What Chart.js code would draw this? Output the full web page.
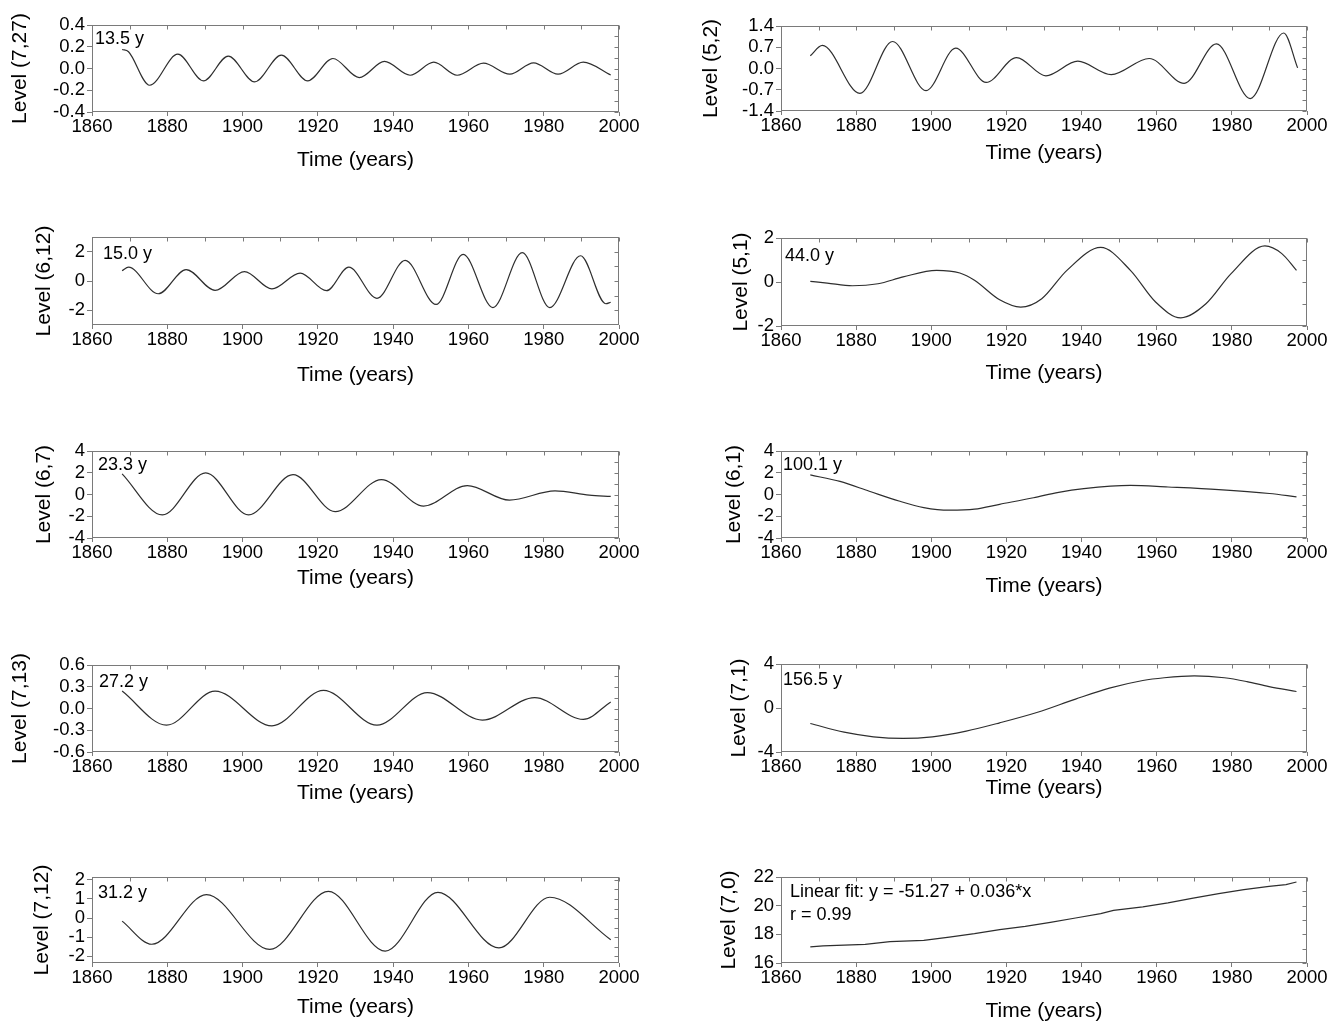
<!DOCTYPE html>
<html><head><meta charset="utf-8">
<script src="https://cdn.jsdelivr.net/npm/chart.js@4.4.0/dist/chart.umd.min.js"></script>
<style>html,body{margin:0;padding:0;background:#fff;width:1342px;height:1021px;overflow:hidden;} canvas{position:absolute;}</style>
</head><body>
<script>
// ---------- DATA ----------
const xTicks = [1860, 1880, 1900, 1920, 1940, 1960, 1980, 2000];
const xTitle = 'Time (years)';

const years_7_27 = [1868, 1869.7, 1875.3, 1882.8, 1889.6, 1896.2, 1903.2, 1910.3, 1917.3, 1924, 1931, 1937.7, 1944.5, 1950.8, 1957, 1964, 1971, 1977.3, 1983.8, 1990.5, 1997.8];
const level_7_27 = [0.175, 0.154, -0.154, 0.132, -0.114, 0.114, -0.123, 0.123, -0.114, 0.092, -0.083, 0.065, -0.062, 0.058, -0.062, 0.049, -0.052, 0.052, -0.052, 0.058, -0.06];
const yTicks_7_27 = [-0.4, -0.2, 0, 0.2, 0.4];

const years_5_2 = [1867.8, 1871, 1881, 1889.7, 1898.6, 1906.5, 1914.6, 1922.7, 1930.5, 1939, 1947.9, 1958, 1967.3, 1975.9, 1984.9, 1993.8, 1997.5];
const level_5_2 = [0.42, 0.76, -0.82, 0.89, -0.73, 0.67, -0.46, 0.36, -0.24, 0.24, -0.2, 0.33, -0.49, 0.81, -0.99, 1.17, 0.02];
const yTicks_5_2 = [-1.4, -0.7, 0, 0.7, 1.4];

const years_6_12 = [1868, 1869.7, 1877.6, 1885, 1892.7, 1900.5, 1907.8, 1915.3, 1922.3, 1928.2, 1935.7, 1943.2, 1951.4, 1958.6, 1966.5, 1974.3, 1981.6, 1989.8, 1996.5, 1997.8];
const level_6_12 = [0.7, 0.94, -0.87, 0.78, -0.64, 0.64, -0.54, 0.54, -0.66, 0.94, -1.18, 1.41, -1.6, 1.81, -1.81, 1.93, -1.81, 1.72, -1.55, -1.45];
const yTicks_6_12 = [-2, 0, 2];

const years_5_1 = [1867.8, 1872.3, 1879, 1885.8, 1892.5, 1901.4, 1907.6, 1911.5, 1918.2, 1923.8, 1929.4, 1936.1, 1945.1, 1953, 1959.7, 1966.4, 1973.1, 1979.8, 1988.8, 1993.3, 1997.2];
const level_5_1 = [0.03, -0.05, -0.17, -0.08, 0.23, 0.53, 0.41, 0.08, -0.81, -1.14, -0.76, 0.53, 1.57, 0.53, -0.91, -1.63, -0.99, 0.38, 1.64, 1.29, 0.53];
const yTicks_5_1 = [-2, 0, 2];

const years_6_7 = [1868, 1878.7, 1890.2, 1901.6, 1913.4, 1924.6, 1936.9, 1948.1, 1959.7, 1970.9, 1983, 1992.1, 1997.8];
const level_6_7 = [1.9, -1.88, 1.98, -1.88, 1.82, -1.58, 1.37, -1.06, 0.82, -0.52, 0.33, -0.06, -0.18];
const yTicks_6_7 = [-4, -2, 0, 2, 4];

const years_6_1 = [1867.8, 1875.7, 1883.5, 1891.4, 1898, 1904.8, 1911.5, 1918.2, 1927.2, 1933.9, 1940.6, 1953, 1963, 1976.5, 1990, 1997.2];
const level_6_1 = [1.8, 1.2, 0.3, -0.6, -1.2, -1.44, -1.35, -0.9, -0.3, 0.2, 0.54, 0.84, 0.69, 0.45, 0.09, -0.21];
const yTicks_6_1 = [-4, -2, 0, 2, 4];

const years_7_13 = [1868, 1879.8, 1892.7, 1907.8, 1921.5, 1935.7, 1949.1, 1963.7, 1977.6, 1990.5, 1997.8];
const level_7_13 = [0.24, -0.23, 0.24, -0.24, 0.25, -0.23, 0.22, -0.16, 0.15, -0.15, 0.09];
const yTicks_7_13 = [-0.6, -0.3, 0, 0.3, 0.6];

const years_7_1 = [1867.8, 1876.8, 1884.6, 1892.5, 1900.3, 1909.3, 1918.2, 1928.3, 1938.4, 1947.4, 1956.3, 1962, 1970, 1978, 1984, 1989.9, 1997.2];
const level_7_1 = [-1.41, -2.2, -2.62, -2.77, -2.62, -2.1, -1.35, -0.39, 0.81, 1.8, 2.5, 2.75, 2.92, 2.75, 2.4, 1.95, 1.5];
const yTicks_7_1 = [-4, 0, 4];

const years_7_12 = [1868, 1875.9, 1890.4, 1907.2, 1922.8, 1937.9, 1951.9, 1968.1, 1981.6, 1997.8];
const level_7_12 = [-0.16, -1.37, 1.23, -1.64, 1.4, -1.73, 1.35, -1.56, 1.09, -1.13];
const yTicks_7_12 = [-2, -1, 0, 1, 2];

const years_7_0 = [1867.8, 1871.2, 1882.4, 1889, 1898, 1904.8, 1911.5, 1918.2, 1925, 1931.7, 1938.4, 1945.1, 1948.5, 1956.3, 1963, 1969.7, 1976.5, 1983.2, 1989.9, 1994.4, 1997.2];
const level_7_0 = [17.12, 17.2, 17.3, 17.49, 17.58, 17.81, 18.05, 18.33, 18.56, 18.84, 19.14, 19.44, 19.67, 19.91, 20.19, 20.53, 20.84, 21.12, 21.35, 21.47, 21.65];
const yTicks_7_0 = [16, 18, 20, 22];

// ---------- LAYOUT / STYLE ----------
const FONT = '"Liberation Sans", Arial, Helvetica, sans-serif';
const AXIS_W = 92;
const panels = [
  {ytitle:'Level (7,27)', xs:years_7_27, ys:level_7_27, yt:yTicks_7_27, min:-0.4, max:0.4, dec:1, box:[92,25,619,112], titleY:160, tpad:8, note:['13.5 y'], nx:3, ny:14},
  {ytitle:'Level (5,2)',  xs:years_5_2,  ys:level_5_2,  yt:yTicks_5_2,  min:-1.4, max:1.4, dec:1, box:[781,26,1307,111], titleY:153, tpad:10, note:[], nx:3, ny:14},
  {ytitle:'Level (6,12)', xs:years_6_12, ys:level_6_12, yt:yTicks_6_12, min:-3, max:3, dec:0, box:[92,237,619,325], titleY:375, tpad:32, note:['15.0 y'], nx:11, ny:17},
  {ytitle:'Level (5,1)',  xs:years_5_1,  ys:level_5_1,  yt:yTicks_5_1,  min:-2, max:2, dec:0, box:[781,238,1307,326], titleY:373, tpad:40, note:['44.0 y'], nx:4, ny:18},
  {ytitle:'Level (6,7)',  xs:years_6_7,  ys:level_6_7,  yt:yTicks_6_7,  min:-4, max:4, dec:0, box:[92,451,619,538], titleY:578, tpad:32, note:['23.3 y'], nx:6, ny:14},
  {ytitle:'Level (6,1)',  xs:years_6_1,  ys:level_6_1,  yt:yTicks_6_1,  min:-4, max:4, dec:0, box:[781,451,1307,538], titleY:586, tpad:33, note:['100.1 y'], nx:2, ny:14},
  {ytitle:'Level (7,13)', xs:years_7_13, ys:level_7_13, yt:yTicks_7_13, min:-0.6, max:0.6, dec:1, box:[92,665,619,752], titleY:793, tpad:8, note:['27.2 y'], nx:7, ny:17},
  {ytitle:'Level (7,1)',  xs:years_7_1,  ys:level_7_1,  yt:yTicks_7_1,  min:-4, max:4, dec:0, box:[781,664,1307,752], titleY:788, tpad:38, note:['156.5 y'], nx:2, ny:16},
  {ytitle:'Level (7,12)', xs:years_7_12, ys:level_7_12, yt:yTicks_7_12, min:-2.35, max:2.15, dec:0, box:[92,877,619,963], titleY:1007, tpad:30, note:['31.2 y'], nx:6, ny:16},
  {ytitle:'Level (7,0)',  xs:years_7_0,  ys:level_7_0,  yt:yTicks_7_0,  min:16, max:22, dec:0, box:[781,877,1307,963], titleY:1011, tpad:28, note:['Linear fit: y = -51.27 + 0.036*x', 'r = 0.99'], nx:9, ny:15, straight:true}
];

const framePlugin = {
  id: 'frame',
  afterDraw(chart, args, opts) {
    const {ctx, chartArea: a, scales: {x, y}} = chart;
    ctx.save();
    ctx.strokeStyle = '#7a7a7a';
    ctx.lineWidth = 1;
    const L = Math.round(a.left) + 0.5, R = Math.round(a.right) - 0.5;
    const T = Math.round(a.top) + 0.5, B = Math.round(a.bottom) - 0.5;
    ctx.strokeRect(L, T, R - L, B - T);
    ctx.beginPath();
    for (let v = x.min; v <= x.max; v += 10) {
      const px = Math.round(x.getPixelForValue(v)) + 0.5;
      ctx.moveTo(px, T); ctx.lineTo(px, T + 4);
    }
    const yt = opts.yt;
    const pos = [];
    yt.forEach(v => pos.push(v));
    for (let i = 0; i < yt.length - 1; i++) pos.push((yt[i] + yt[i + 1]) / 2);
    pos.forEach(v => {
      if (v < y.min || v > y.max) return;
      const py = Math.round(y.getPixelForValue(v)) + 0.5;
      ctx.moveTo(R, py); ctx.lineTo(R - 4, py);
    });
    ctx.stroke();
    ctx.restore();
  }
};

const notePlugin = {
  id: 'note',
  afterDraw(chart, args, opts) {
    if (!opts.lines || !opts.lines.length) return;
    const {ctx, chartArea: a} = chart;
    ctx.save();
    ctx.fillStyle = '#000';
    ctx.font = '18px ' + FONT;
    ctx.textBaseline = 'middle';
    ctx.textAlign = 'left';
    opts.lines.forEach((t, i) => ctx.fillText(t, a.left + opts.dx, a.top + opts.dy + i * 23));
    ctx.restore();
  }
};

panels.forEach((p, idx) => {
  const [l, t, r, b] = p.box;
  const padTop = 14, padRight = 30;
  const cLeft = l - AXIS_W, cTop = t - padTop;
  const cW = AXIS_W + (r - l) + padRight;
  const cH = Math.round(p.titleY + 12.6 - cTop);
  const xAxisH = cH - (b - cTop);
  const cv = document.createElement('canvas');
  cv.width = cW; cv.height = cH;
  cv.style.left = cLeft + 'px'; cv.style.top = cTop + 'px';
  cv.style.width = cW + 'px'; cv.style.height = cH + 'px';
  document.body.appendChild(cv);
  new Chart(cv, {
    type: 'line',
    data: {
      datasets: [{
        data: p.xs.map((xv, i) => ({x: xv, y: p.ys[i]})),
        borderColor: '#2e2e2e',
        borderWidth: 1.2,
        pointRadius: 0,
        fill: false,
        cubicInterpolationMode: p.straight ? 'default' : 'monotone',
        tension: p.straight ? 0 : 0.4
      }]
    },
    options: {
      responsive: false,
      animation: false,
      devicePixelRatio: 1,
      layout: {padding: {top: padTop, right: padRight, left: 0, bottom: 0}},
      plugins: {
        legend: {display: false},
        tooltip: {enabled: false},
        frame: {yt: p.yt},
        note: {lines: p.note, dx: p.nx, dy: p.ny}
      },
      scales: {
        x: {
          type: 'linear', min: 1860, max: 2000,
          afterBuildTicks: s => { s.ticks = xTicks.map(v => ({value: v})); },
          afterFit: s => { s.height = xAxisH; },
          ticks: {color: '#000', font: {family: FONT, size: 18.5}, padding: 0, maxRotation: 0, autoSkip: false, callback: v => String(v)},
          grid: {drawOnChartArea: false, drawTicks: true, tickLength: 4, color: '#7a7a7a'},
          border: {display: false},
          title: {display: true, text: xTitle, color: '#000', font: {family: FONT, size: 21}, padding: {top: 0, bottom: 0}}
        },
        y: {
          type: 'linear', min: p.min, max: p.max,
          afterBuildTicks: s => { s.ticks = p.yt.map(v => ({value: v})); },
          afterFit: s => { s.width = AXIS_W; },
          ticks: {color: '#000', font: {family: FONT, size: 18.5}, padding: 2, autoSkip: false, callback: v => Number(v).toFixed(p.dec)},
          grid: {drawOnChartArea: false, drawTicks: true, tickLength: 5, color: '#7a7a7a'},
          border: {display: false},
          title: {display: true, text: p.ytitle, color: '#000', font: {family: FONT, size: 21}, padding: {top: p.tpad, bottom: 0}}
        }
      }
    },
    plugins: [framePlugin, notePlugin]
  });
});
</script>
</body></html>
